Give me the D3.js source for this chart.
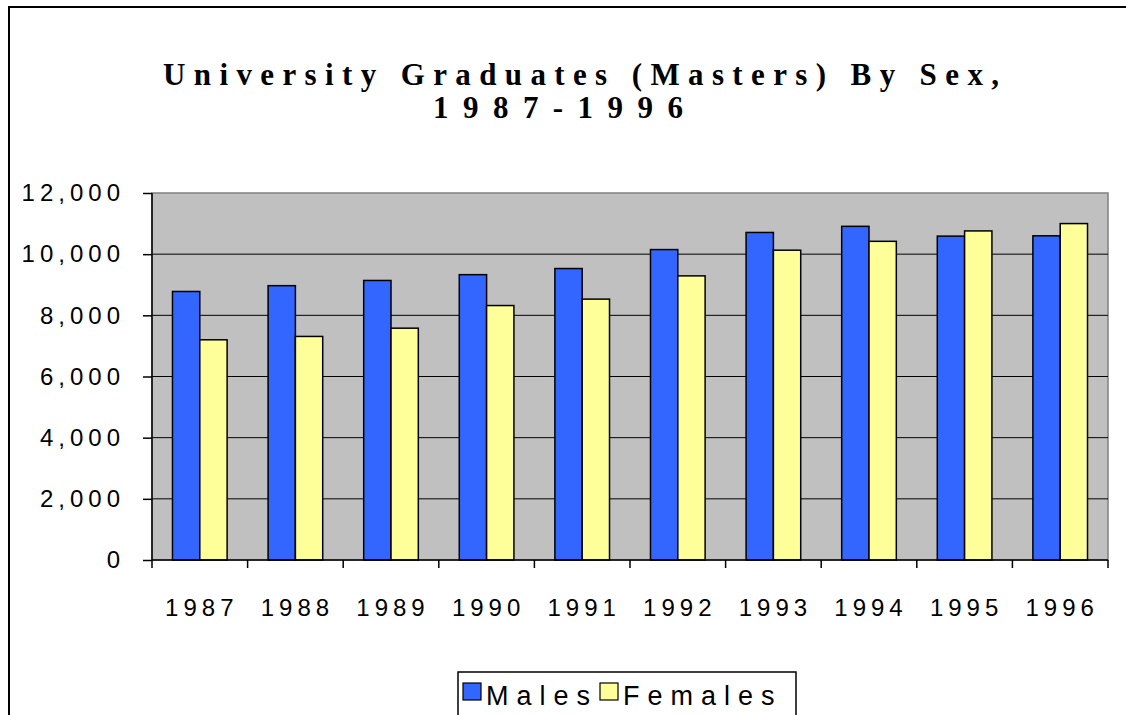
<!DOCTYPE html>
<html>
<head>
<meta charset="utf-8">
<script src="https://cdn.jsdelivr.net/npm/d3@7"></script>
<style>
  body { margin: 0; background: #fff; }
  svg { display: block; }
</style>
</head>
<body>
<svg id="chart"></svg>
<script>
// Global: chart data
const years = ['1987', '1988', '1989', '1990', '1991', '1992', '1993', '1994', '1995', '1996'];
const males = [8780, 8970, 9140, 9330, 9530, 10150, 10710, 10910, 10590, 10600];
const females = [7200, 7310, 7580, 8320, 8530, 9290, 10130, 10420, 10760, 11000];
const seriesNames = ['Males', 'Females'];
const seriesColors = ['#3366FF', '#FFFF99'];
const yTicks = [0, 2000, 4000, 6000, 8000, 10000, 12000];
const titleLines = ['University Graduates (Masters) By Sex,', '1987-1996'];

const W = 1126, H = 715;
// plot area box
const plot = { left: 152, top: 193, right: 1108, bottom: 560 };

const svg = d3.select("#chart").attr("width", W).attr("height", H);

// outer frame (right and bottom go off the page)
svg.append("rect")
  .attr("x", 9).attr("y", 7)
  .attr("width", W + 20).attr("height", H + 20)
  .attr("fill", "#fff").attr("stroke", "#000").attr("stroke-width", 2);

// title - widths stretched with textLength to match the wide spacing
const titleBox = [{ x: 163, w: 836, y: 85 }, { x: 433, w: 250, y: 118 }];
svg.selectAll(".title")
  .data(titleLines)
  .enter().append("text")
  .attr("class", "title")
  .attr("x", (d, i) => titleBox[i].x)
  .attr("y", (d, i) => titleBox[i].y)
  .attr("textLength", (d, i) => titleBox[i].w)
  .attr("lengthAdjust", "spacing")
  .style("font-family", "'Liberation Serif', 'Times New Roman', serif")
  .style("font-weight", "bold")
  .style("font-size", "31px")
  .text(d => d);

// scales
const x = d3.scaleBand().domain(years).range([plot.left, plot.right]).paddingInner(0).paddingOuter(0);
const y = d3.scaleLinear().domain([0, 12000]).range([plot.bottom, plot.top]);
// two bars per year, Excel style gap (150%)
const barW = x.bandwidth() / 3.5;
const inner = d3.scaleBand().domain(seriesNames).range([0.75 * barW, 2.75 * barW]);

// plot background
svg.append("rect")
  .attr("x", plot.left).attr("y", plot.top)
  .attr("width", plot.right - plot.left).attr("height", plot.bottom - plot.top)
  .attr("fill", "#C0C0C0").attr("stroke", "#808080").attr("stroke-width", 1.5);

// gridlines
svg.selectAll(".grid")
  .data(yTicks.filter(d => d > 0 && d < 12000))
  .enter().append("line")
  .attr("x1", plot.left).attr("x2", plot.right)
  .attr("y1", d => y(d)).attr("y2", d => y(d))
  .attr("stroke", "#000").attr("stroke-width", 1);

// bars
const rows = years.map((yr, i) => ({ year: yr, values: [males[i], females[i]] }));
const groups = svg.selectAll(".year")
  .data(rows)
  .enter().append("g")
  .attr("transform", d => `translate(${x(d.year)},0)`);

groups.selectAll("rect")
  .data(d => d.values.map((v, j) => ({ name: seriesNames[j], value: v, color: seriesColors[j] })))
  .enter().append("rect")
  .attr("x", d => inner(d.name))
  .attr("width", inner.bandwidth())
  .attr("y", d => y(d.value))
  .attr("height", d => y(0) - y(d.value))
  .attr("fill", d => d.color)
  .attr("stroke", "#000").attr("stroke-width", 1.5);

const axisFont = "'Liberation Sans', Arial, sans-serif";

// y axis
const yAxis = svg.append("g")
  .attr("transform", `translate(${plot.left},0)`)
  .call(d3.axisLeft(y).tickValues(yTicks).tickSize(9).tickPadding(18)
    .tickFormat(d3.format(",")));
yAxis.selectAll("path, line").attr("stroke", "#000").attr("stroke-width", 1.5);
yAxis.select(".domain").attr("d", `M0,${plot.top}V${plot.bottom}`);
yAxis.selectAll("text")
  .style("font-family", axisFont).style("font-size", "24px")
  .style("letter-spacing", "5px").attr("fill", "#000");

// x axis: ticks sit on category edges, labels in the middle
const xAxis = svg.append("g").attr("transform", `translate(0,${plot.bottom})`);
xAxis.append("line")
  .attr("x1", plot.left).attr("x2", plot.right)
  .attr("stroke", "#000").attr("stroke-width", 1.5);
xAxis.selectAll(".tick")
  .data(years.concat(["end"]))
  .enter().append("line")
  .attr("x1", (d, i) => plot.left + i * x.bandwidth())
  .attr("x2", (d, i) => plot.left + i * x.bandwidth())
  .attr("y1", 0).attr("y2", 8)
  .attr("stroke", "#000").attr("stroke-width", 1.5);
xAxis.selectAll(".label")
  .data(years)
  .enter().append("text")
  .attr("x", d => x(d) + x.bandwidth() / 2 + 2)
  .attr("y", 56)
  .attr("text-anchor", "middle")
  .style("font-family", axisFont).style("font-size", "24px")
  .style("letter-spacing", "5px")
  .text(d => d);

// legend
const legend = svg.append("g");
legend.append("rect")
  .attr("x", 458).attr("y", 672).attr("width", 338).attr("height", 60)
  .attr("fill", "#fff").attr("stroke", "#000").attr("stroke-width", 1.5);
const legendX = [463, 600];
seriesNames.forEach((name, i) => {
  legend.append("rect")
    .attr("x", legendX[i]).attr("y", 683).attr("width", 18).attr("height", 17)
    .attr("fill", seriesColors[i]).attr("stroke", "#000").attr("stroke-width", 1.2);
  legend.append("text")
    .attr("x", legendX[i] + 23).attr("y", 705)
    .style("font-family", axisFont).style("font-size", "27px")
    .style("letter-spacing", "8px")
    .text(name);
});
</script>
</body>
</html>
